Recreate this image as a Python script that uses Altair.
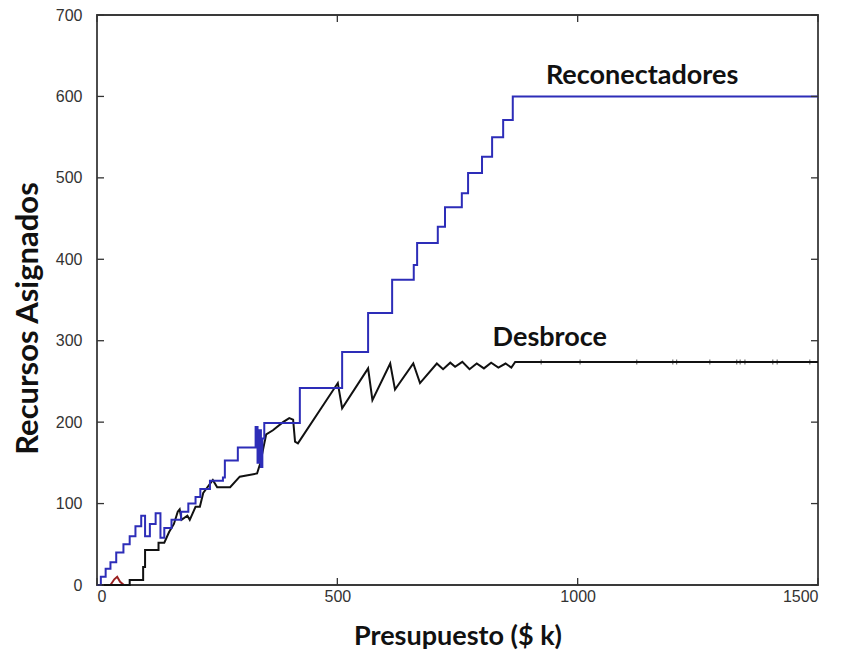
import altair as alt
import pandas as pd

# Reconectadores (blue), step-after levels
blue_x = [0, 8, 18, 28, 40, 55, 68, 80, 92, 100, 110, 122, 132, 140, 155, 175, 190, 205, 215, 235,
          262, 266, 293, 330, 334, 338, 341, 344, 348, 422, 510, 564, 614, 659, 666, 709, 724, 759,
          772, 801, 822, 845, 865, 1500]
blue_y = [0, 10, 20, 28, 40, 50, 60, 72, 85, 60, 75, 88, 58, 70, 80, 90, 100, 108, 118, 128,
          132, 153, 169, 194, 150, 190, 145, 180, 199, 242, 286, 334, 375, 393, 420, 440, 464, 481,
          506, 526, 550, 571, 600, 600]

# Desbroce (black), path vertices
black_x = [0, 68, 68, 96, 96, 100, 100, 128, 128, 140, 150, 160, 168, 172, 176, 188, 193, 205, 214,
           221, 241, 250, 277, 297, 333, 340, 345, 352, 366, 387, 400, 408, 412, 418, 501, 510, 564,
           573, 610, 620, 658, 672, 707, 720, 735, 745, 760, 775, 790, 805, 820, 835, 850, 862, 870,
           1500]
black_y = [0, 0, 6, 6, 22, 22, 43, 43, 52, 52, 65, 75, 90, 93, 80, 85, 80, 96, 96,
           113, 129, 120, 120, 133, 137, 150, 165, 185, 190, 200, 205, 203, 176, 174, 248, 217, 266,
           227, 272, 240, 272, 248, 272, 265, 273, 268, 274, 265, 272, 266, 273, 267, 272, 267, 274,
           274]

# small marks on the Desbroce plateau
mark_x = [924, 1005, 1123, 1198, 1206, 1275, 1331, 1338, 1348, 1406, 1415, 1483]
mark_y = [274] * len(mark_x)

# small red trace near the origin
red_x = [28, 36, 42, 48, 56]
red_y = [0, 7, 10, 4, 0]

x_ticks = [0, 500, 1000, 1500]
y_ticks = [0, 100, 200, 300, 400, 500, 600, 700]

label_text = ["Reconectadores", "Desbroce"]
label_x = [1134, 942]
label_y = [625, 303]

W, H = 721, 570
TL = 7

df_blue = pd.DataFrame({"x": blue_x, "y": blue_y})
df_black = pd.DataFrame({"x": black_x, "y": black_y, "i": list(range(len(black_x)))})
df_red = pd.DataFrame({"x": red_x, "y": red_y})
df_marks = pd.DataFrame({"x": mark_x, "y": mark_y})
df_xt = pd.DataFrame({"x": x_ticks})
df_yt = pd.DataFrame({"y": y_ticks})
df_lab = pd.DataFrame({"x": label_x, "y": label_y, "t": label_text})

xs = alt.Scale(domain=[0, 1500], nice=False, zero=False)
ys = alt.Scale(domain=[0, 700], nice=False, zero=False)

xaxis = alt.Axis(values=x_ticks, title="Presupuesto ($ k)", ticks=False, tickSize=0, domain=False,
                 grid=False, labelPadding=3, titlePadding=19, format="d", titleFontSize=27)
yaxis = alt.Axis(values=y_ticks, title="Recursos Asignados", ticks=False, tickSize=0, domain=False,
                 grid=False, labelPadding=15, titlePadding=11, format="d", titleFontSize=31,
                 titleY=303)

blue = alt.Chart(df_blue).mark_line(interpolate="step-after", color="#2d2db8", strokeWidth=2).encode(
    x=alt.X("x:Q", scale=xs, axis=xaxis),
    y=alt.Y("y:Q", scale=ys, axis=yaxis),
)

black = alt.Chart(df_black).mark_line(color="#111111", strokeWidth=2).encode(
    x=alt.X("x:Q", scale=xs),
    y=alt.Y("y:Q", scale=ys),
    order=alt.Order("i:Q"),
)

red = alt.Chart(df_red).mark_line(color="#9a2020", strokeWidth=2).encode(
    x=alt.X("x:Q", scale=xs),
    y=alt.Y("y:Q", scale=ys),
)

marks = alt.Chart(df_marks).mark_tick(color="#111111", size=5, thickness=1, orient="vertical").encode(
    x=alt.X("x:Q", scale=xs),
    y=alt.Y("y:Q", scale=ys),
)

xt_bottom = alt.Chart(df_xt).mark_rule(color="#333333", strokeWidth=1.3).encode(
    x=alt.X("x:Q", scale=xs), y=alt.value(H), y2=alt.value(H - TL))
xt_top = alt.Chart(df_xt).mark_rule(color="#333333", strokeWidth=1.3).encode(
    x=alt.X("x:Q", scale=xs), y=alt.value(0), y2=alt.value(TL))
yt_left = alt.Chart(df_yt).mark_rule(color="#333333", strokeWidth=1.3).encode(
    y=alt.Y("y:Q", scale=ys), x=alt.value(0), x2=alt.value(TL))
yt_right = alt.Chart(df_yt).mark_rule(color="#333333", strokeWidth=1.3).encode(
    y=alt.Y("y:Q", scale=ys), x=alt.value(W), x2=alt.value(W - TL))

labels = alt.Chart(df_lab).mark_text(font="Lato", fontSize=27, fontWeight="bold", color="#111111",
                                     align="center", baseline="middle").encode(
    x=alt.X("x:Q", scale=xs),
    y=alt.Y("y:Q", scale=ys),
    text="t:N",
)

chart = alt.layer(red, black, blue, marks, xt_bottom, xt_top, yt_left, yt_right, labels).properties(
    width=W, height=H,
    autosize=alt.AutoSizeParams(type="none"),
    padding={"left": 89, "top": 7, "right": 16, "bottom": 67},
).configure_view(
    stroke="#3a3a3a", strokeWidth=1.8
).configure_axis(
    labelFont="Liberation Sans", labelFontSize=16, labelColor="#333333",
    titleFont="Lato", titleFontWeight="bold", titleColor="#111111",
)

chart.save("out.html", embed_options={"renderer": "svg", "actions": False})
